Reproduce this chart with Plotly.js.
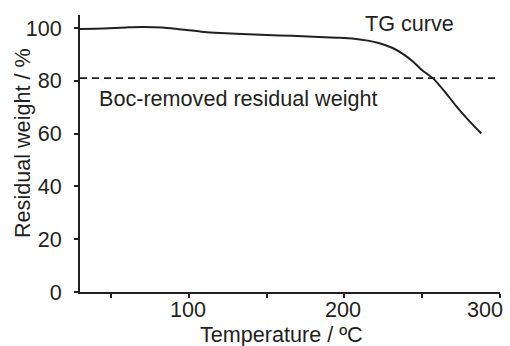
<!DOCTYPE html>
<html>
<head>
<meta charset="utf-8">
<script src="https://cdn.plot.ly/plotly-3.0.1.min.js"></script>
<style>html,body{margin:0;padding:0;background:#fff;}#chart{width:510px;height:346px;}</style>
</head>
<body>
<div id="chart"></div>
<script>
// TG curve data
const temperature = [30, 45, 60, 70, 83, 95, 108, 120, 134, 150, 166, 180, 195, 205, 215, 222, 231, 238, 244, 250, 257, 265, 272, 280, 288];
const weight = [99.6, 99.8, 100.2, 100.4, 100.2, 99.4, 98.6, 98.1, 97.7, 97.3, 97.0, 96.7, 96.3, 96.0, 95.2, 94.3, 92.4, 90.0, 87.3, 84.0, 80.9, 75.5, 70.3, 64.9, 60.0];

// Boc-removed residual weight level
const bocLevel = 81;
const bocRangeX = [30, 300];

// x axis: ticks every 50, labels only at the hundreds
const xTickVals = [50, 100, 150, 200, 250, 300];
const xLabelVals = [100, 200, 300];
const xLabelText = ['100', '200', '300'];
const yTickVals = [0, 20, 40, 60, 80, 100];

const curveLabel = 'TG curve';
const bocLabel = 'Boc-removed residual weight';
const xTitle = 'Temperature / ºC';
const yTitle = 'Residual weight / %';

const ink = '#231f20';
const fontFam = 'Liberation Sans, Arial, sans-serif';
const fs = 21.6;

const traces = [
  {
    x: temperature, y: weight, type: 'scatter', mode: 'lines',
    line: {color: ink, width: 2, shape: 'spline', smoothing: 0.6},
    hoverinfo: 'skip', showlegend: false
  },
  {
    x: bocRangeX, y: [bocLevel, bocLevel], type: 'scatter', mode: 'lines',
    line: {color: ink, width: 1.6, dash: '7px,5px'},
    hoverinfo: 'skip', showlegend: false
  }
];

const W = 510, H = 346;
const M = {l: 80, r: 10, t: 15, b: 54};
const plotW = W - M.l - M.r;
const plotH = H - M.t - M.b;
const px2x = p => (p - M.l) / plotW;          // pixel -> paper x
const px2y = p => (H - M.b - p) / plotH;      // pixel -> paper y

const annotations = [
  {x: 212, y: 101.6, xref: 'x', yref: 'y', text: curveLabel, showarrow: false,
   xanchor: 'left', yanchor: 'middle', font: {size: fs, color: ink, family: fontFam}},
  {x: 41, y: 73.4, xref: 'x', yref: 'y', text: bocLabel, showarrow: false,
   xanchor: 'left', yanchor: 'middle', font: {size: fs, color: ink, family: fontFam}},
  {x: px2x(281), y: px2y(334), xref: 'paper', yref: 'paper', text: xTitle, showarrow: false,
   xanchor: 'center', yanchor: 'middle', font: {size: fs, color: ink, family: fontFam}},
  {x: px2x(22), y: px2y(143), xref: 'paper', yref: 'paper', text: yTitle, showarrow: false, textangle: -90,
   xanchor: 'center', yanchor: 'middle', font: {size: fs, color: ink, family: fontFam}}
];
xLabelVals.forEach((v, i) => {
  const last = i === xLabelVals.length - 1;
  annotations.push({
    x: v, y: px2y(309.5), xref: 'x', yref: 'paper', text: xLabelText[i], showarrow: false,
    xanchor: last ? 'right' : 'center', yanchor: 'middle', xshift: last ? 5 : -1,
    font: {size: fs, color: ink, family: fontFam}
  });
});

const layout = {
  width: W, height: H,
  margin: M,
  paper_bgcolor: '#fff', plot_bgcolor: '#fff',
  font: {family: fontFam, color: ink, size: fs},
  showlegend: false,
  xaxis: {
    range: [30, 300], tickvals: xTickVals, showticklabels: false,
    ticks: 'outside', ticklen: 4, tickwidth: 2, tickcolor: ink,
    showline: true, linecolor: ink, linewidth: 2,
    showgrid: false, zeroline: false
  },
  yaxis: {
    range: [0, 104.9], tickvals: yTickVals,
    ticks: 'outside', ticklen: 4, tickwidth: 2, tickcolor: ink,
    showline: true, linecolor: ink, linewidth: 2,
    showgrid: false, zeroline: false,
    tickfont: {size: fs, color: ink, family: fontFam},
    ticklabelstandoff: 8
  },
  annotations: annotations
};

Plotly.newPlot('chart', traces, layout, {displayModeBar: false, staticPlot: true});
</script>
</body>
</html>
